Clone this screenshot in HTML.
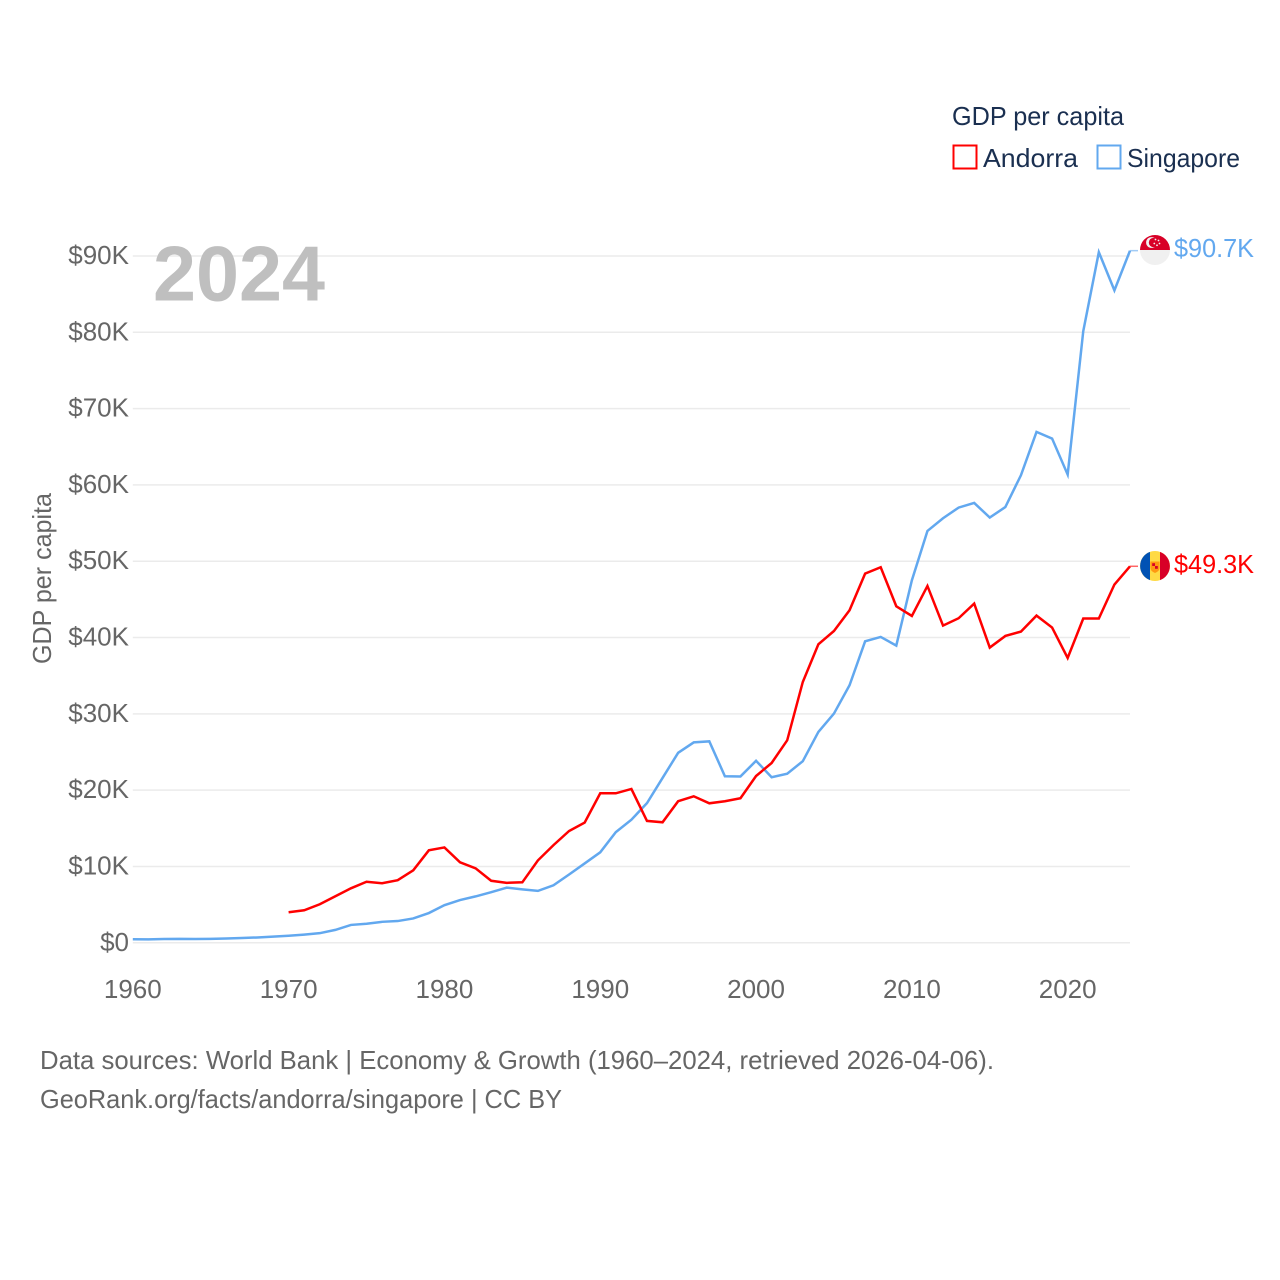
<!DOCTYPE html>
<html lang="en">
<head>
<meta charset="utf-8">
<title>GDP per capita: Andorra and Singapore</title>
<style>
html,body{margin:0;padding:0;background:#fff;width:1280px;height:1280px;overflow:hidden}
svg{display:block}
text{font-family:"Liberation Sans",sans-serif}
</style>
</head>
<body>
<svg id="chart" xmlns="http://www.w3.org/2000/svg" width="1280" height="1280" viewBox="0 0 1280 1280">
  <rect width="1280" height="1280" fill="#fff"/>
  <g id="grid"></g>
  <g id="yticks"></g>
  <g id="xticks"></g>
  <text transform="translate(51,578.5) rotate(-90)" text-anchor="middle" font-size="26" fill="#666" textLength="171" lengthAdjust="spacingAndGlyphs">GDP per capita</text>
  <text x="153" y="300.5" font-size="78" font-weight="700" fill="#bfbfbf" textLength="172" lengthAdjust="spacingAndGlyphs">2024</text>
  <g id="series"></g>

  <g transform="translate(1155,250)">
    <circle r="15" fill="#f0f0f0"/>
    <path d="M-15 0A15 15 0 0 1 15 0Z" fill="#d80027"/>
    <circle cx="-3.5" cy="-7.5" r="5.4" fill="#f0f0f0"/>
    <circle cx="-1.6" cy="-7.5" r="4.6" fill="#d80027"/>
    <g fill="#f0f0f0">
      <circle cx="0.5" cy="-10.5" r="0.9"/><circle cx="3.5" cy="-9.5" r="0.9"/><circle cx="4.5" cy="-6.5" r="0.9"/><circle cx="2" cy="-4.7" r="0.9"/><circle cx="-0.7" cy="-6.5" r="0.9"/>
    </g>
  </g>
  <g transform="translate(1155,566)">
    <circle r="15" fill="#ffda44"/>
    <path d="M-5 -14.1A15 15 0 0 0 -5 14.1Z" fill="#0052b4"/>
    <path d="M5 -14.1A15 15 0 0 1 5 14.1Z" fill="#d80027"/>
    <path d="M-4.6 -4.5H4.6V2Q4.6 5 0 7Q-4.6 5 -4.6 2Z" fill="#ff9811"/>
    <rect x="-2.8" y="-2.8" width="2.8" height="2.8" fill="#d80027"/>
    <rect x="0" y="0" width="2.8" height="2.8" fill="#d80027"/>
  </g>
  <text x="1174" y="257" font-size="26" fill="#62a8ef" textLength="80" lengthAdjust="spacingAndGlyphs">$90.7K</text>
  <text x="1174" y="573" font-size="26" fill="#ff0000" textLength="80" lengthAdjust="spacingAndGlyphs">$49.3K</text>

  <text x="952" y="125" font-size="26" fill="#1a2f50" textLength="172" lengthAdjust="spacingAndGlyphs">GDP per capita</text>
  <rect x="953.5" y="145.5" width="23" height="23" fill="#fff" stroke="#ff0000" stroke-width="2"/>
  <text x="983" y="167" font-size="26" fill="#1a2f50" textLength="95" lengthAdjust="spacingAndGlyphs">Andorra</text>
  <rect x="1097.5" y="145.5" width="23" height="23" fill="#fff" stroke="#62a8ef" stroke-width="2"/>
  <text x="1127" y="167" font-size="26" fill="#1a2f50" textLength="113" lengthAdjust="spacingAndGlyphs">Singapore</text>

  <text x="40" y="1069" font-size="26" fill="#666" textLength="954" lengthAdjust="spacingAndGlyphs">Data sources: World Bank | Economy &amp; Growth (1960–2024, retrieved 2026-04-06).</text>
  <text x="40" y="1108" font-size="26" fill="#666" textLength="522" lengthAdjust="spacingAndGlyphs">GeoRank.org/facts/andorra/singapore | CC BY</text>
</svg>
<script>
const yTickValues = [0, 10000, 20000, 30000, 40000, 50000, 60000, 70000, 80000, 90000];
const yTickLabels = ["$0", "$10K", "$20K", "$30K", "$40K", "$50K", "$60K", "$70K", "$80K", "$90K"];
const xTickYears = [1960, 1970, 1980, 1990, 2000, 2010, 2020];
const andorraStartYear = 1970;
const andorraValues = [4000, 4260, 5050, 6100, 7140, 8000, 7800, 8200, 9500, 12120, 12500, 10550, 9760, 8130, 7860, 7930, 10800, 12800, 14650, 15750, 19590, 19590, 20160, 15970, 15790, 18550, 19200, 18280, 18550, 18940, 21860, 23560, 26540, 34180, 39120, 40860, 43580, 48380, 49210, 44100, 42830, 46760, 41570, 42530, 44450, 38690, 40210, 40780, 42880, 41310, 37330, 42490, 42490, 46950, 49340];
const singaporeStartYear = 1960;
const singaporeValues = [460, 450, 490, 520, 490, 510, 570, 625, 700, 810, 925, 1070, 1260, 1690, 2340, 2490, 2750, 2850, 3190, 3900, 4930, 5600, 6080, 6630, 7230, 7000, 6800, 7540, 8950, 10400, 11860, 14500, 16130, 18300, 21600, 24900, 26260, 26400, 21830, 21800, 23850, 21700, 22160, 23800, 27630, 30040, 33750, 39510, 40080, 38950, 47500, 53970, 55630, 57030, 57640, 55730, 57100, 61270, 66950, 66080, 61360, 80150, 90500, 85500, 90700];

const NS = 'http://www.w3.org/2000/svg';
const xScale = function (year) { return 132.8 + (year - 1960) * (1130 - 132.8) / 64; };
const yScale = function (v) { return 942.8 - v * (942.8 - 256) / 90000; };

const grid = document.getElementById('grid');
const yticks = document.getElementById('yticks');
const xticks = document.getElementById('xticks');
const series = document.getElementById('series');

yTickValues.forEach(function (v, i) {
  const line = document.createElementNS(NS, 'line');
  
  
  line.setAttribute('x1', xScale(1960));
  line.setAttribute('x2', xScale(2024));
  line.setAttribute('y1', yScale(v));
  line.setAttribute('y2', yScale(v));
  line.setAttribute('stroke', '#ebebeb');
  line.setAttribute('stroke-width', '1.5');
  grid.appendChild(line);

  const label = document.createElementNS(NS, 'text');
  
  
  label.setAttribute('x', 129);
  label.setAttribute('y', yScale(v) + 8);
  label.setAttribute('text-anchor', 'end');
  label.setAttribute('font-size', '26');
  label.setAttribute('fill', '#666');
  label.textContent = yTickLabels[i];
  yticks.appendChild(label);
});

xTickYears.forEach(function (year) {
  const label = document.createElementNS(NS, 'text');
  
  
  label.setAttribute('x', xScale(year));
  label.setAttribute('y', 998);
  label.setAttribute('text-anchor', 'middle');
  label.setAttribute('font-size', '26');
  label.setAttribute('fill', '#666');
  label.textContent = String(year);
  xticks.appendChild(label);
});

function linePoints(startYear, values) {
  return values.map(function (v, i) {
    return xScale(startYear + i).toFixed(2) + ',' + yScale(v).toFixed(2);
  }).join(' ');
}

function connector(startYear, values, color) {
  const last = values[values.length - 1];
  const stub = document.createElementNS(NS, 'line');
  
  
  stub.setAttribute('x1', xScale(2024));
  stub.setAttribute('x2', xScale(2024) + 8);
  stub.setAttribute('y1', yScale(last));
  stub.setAttribute('y2', yScale(last));
  stub.setAttribute('stroke', color);
  stub.setAttribute('stroke-width', '1.5');
  stub.setAttribute('stroke-opacity', '0.6');
  series.appendChild(stub);
}

const singaporeLine = document.createElementNS(NS, 'polyline');


singaporeLine.setAttribute('points', linePoints(singaporeStartYear, singaporeValues));
singaporeLine.setAttribute('fill', 'none');
singaporeLine.setAttribute('stroke', '#62a8ef');
singaporeLine.setAttribute('stroke-width', '2.5');
singaporeLine.setAttribute('stroke-linejoin', 'miter');
series.appendChild(singaporeLine);

const andorraLine = document.createElementNS(NS, 'polyline');


andorraLine.setAttribute('points', linePoints(andorraStartYear, andorraValues));
andorraLine.setAttribute('fill', 'none');
andorraLine.setAttribute('stroke', '#ff0000');
andorraLine.setAttribute('stroke-width', '2.5');
andorraLine.setAttribute('stroke-linejoin', 'miter');
series.appendChild(andorraLine);

connector(singaporeStartYear, singaporeValues, '#62a8ef');
connector(andorraStartYear, andorraValues, '#ff0000');
</script>
</body>
</html>
